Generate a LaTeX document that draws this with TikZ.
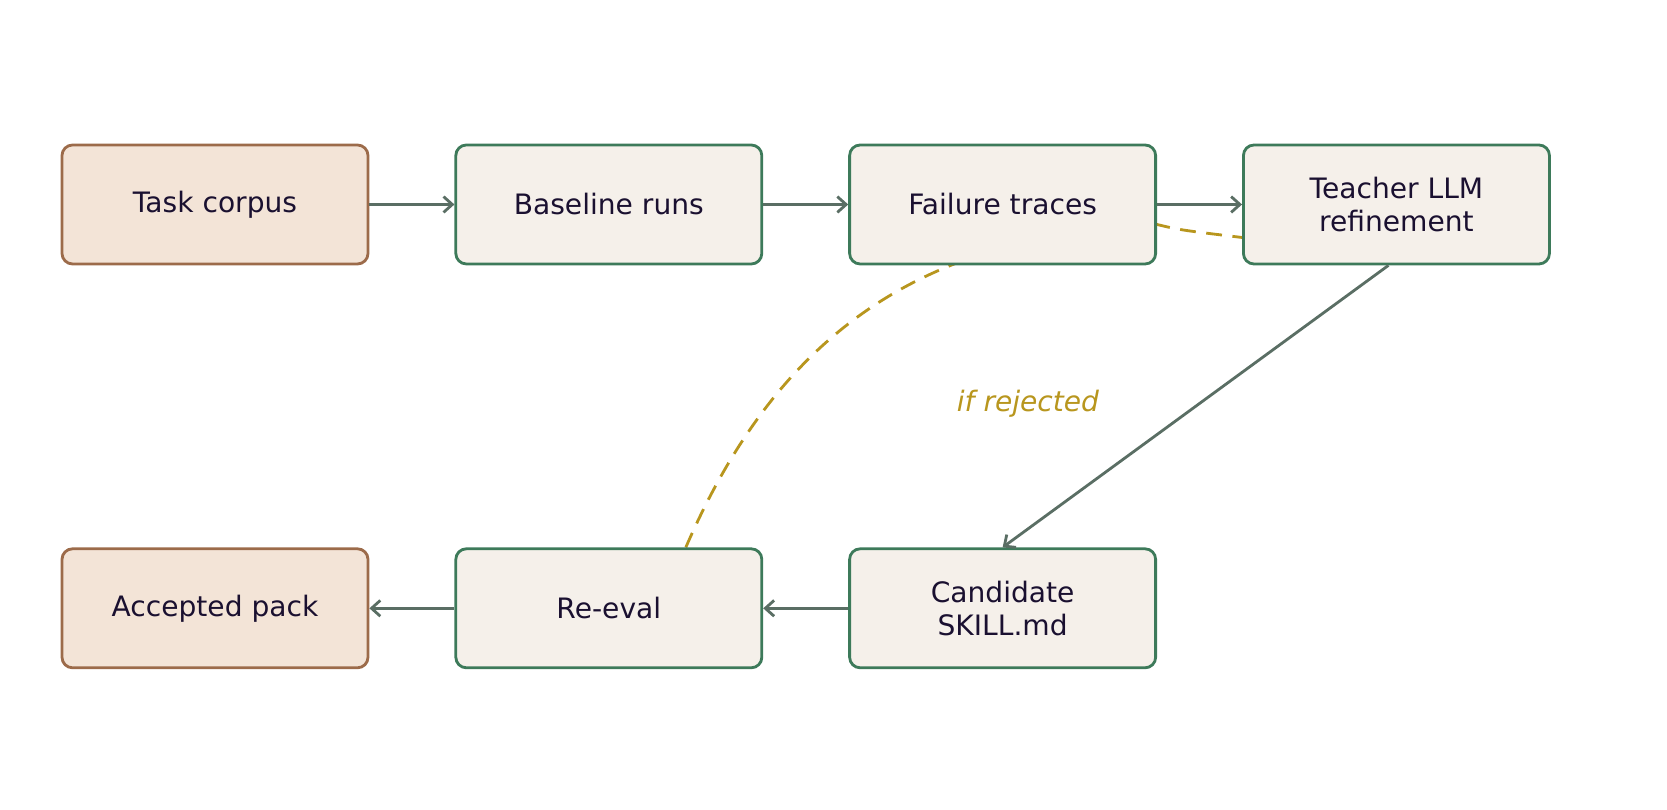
\documentclass[tikz,border=0pt]{standalone}
\usepackage{fontspec}
\setmainfont{DejaVu Sans}
\usetikzlibrary{positioning,arrows.meta,backgrounds}
\definecolor{stepline}{HTML}{3D7A5A}
\definecolor{stepfill}{HTML}{F5F0EA}
\definecolor{endline}{HTML}{9C6B4A}
\definecolor{endfill}{HTML}{F3E4D7}
\definecolor{flow}{HTML}{5A6E64}
\definecolor{loopc}{HTML}{B8961E}
\definecolor{ink}{HTML}{1A1030}
\tikzset{
  stage/.style={draw=stepline, fill=stepfill, line width=1.6pt, rounded corners=6pt,
    minimum width=6.12cm, minimum height=2.38cm, align=center, text=ink,
    font=\fontsize{16}{19}\selectfont},
  ends/.style={stage, draw=endline, fill=endfill},
  flowarr/.style={draw=flow, line width=1.6pt, -{Straight Barb[length=5pt,width=9pt]}},
}
\begin{document}
\begin{tikzpicture}
\useasboundingbox (0,0) rectangle (33.34,16.2);
\node[ends] (corpus) at (4.3,12.11) {Task corpus};
\node[stage, right=1.7cm of corpus] (baseline) {Baseline runs};
\node[stage, right=1.7cm of baseline] (failure) {Failure traces};
\node[stage, right=1.7cm of failure] (teacher) {Teacher LLM\\refinement};
\node[ends, below=5.64cm of corpus] (accepted) {Accepted pack};
\node[stage, right=1.7cm of accepted] (reeval) {Re-eval};
\node[stage, right=1.7cm of reeval] (candidate) {Candidate\\SKILL.md};
% main flow
\draw[flowarr] (corpus) -- (baseline);
\draw[flowarr] (baseline) -- (failure);
\draw[flowarr] (failure) -- (teacher);
\draw[flowarr] ([xshift=-0.16cm]teacher.south) -- (candidate.north);
\draw[flowarr] (candidate) -- (reeval);
\draw[flowarr] (reeval) -- (accepted);
% loop back
\begin{scope}[on background layer]
\draw[loopc, line width=1.6pt, dash pattern=on 9pt off 6pt]
  ([xshift=1.54cm]reeval.north) .. controls (15.6,9.6) and (18.5,11.5) .. ([yshift=-0.4cm]failure.east)
  .. controls (23.6,11.6) .. ([yshift=-0.66cm]teacher.west);
\end{scope}
\node[text=loopc, font=\fontsize{16}{19}\selectfont\itshape] (rejected) at (20.56,8.12) {if rejected};
\end{tikzpicture}
\end{document}
